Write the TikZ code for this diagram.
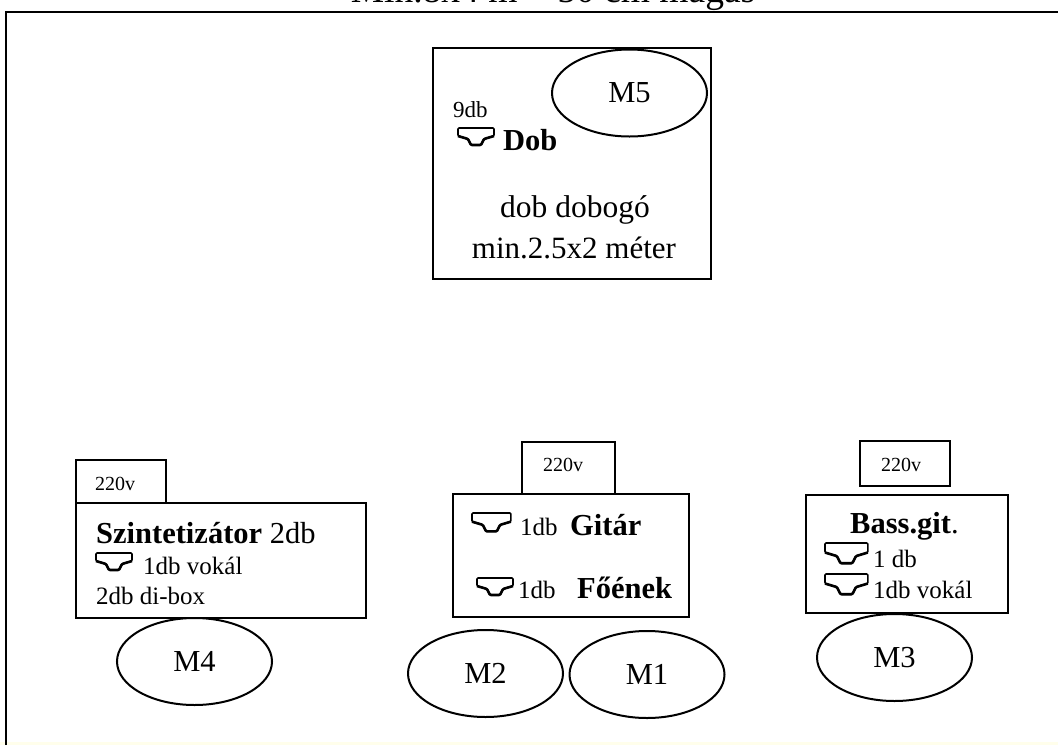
\documentclass[tikz,border=0pt]{standalone}
\usepackage{fontspec}
\setmainfont{Liberation Serif}
\usetikzlibrary{shapes}
\newcommand{\lw}{2pt}
\newcommand{\TS}{\fontsize{30.5}{32}\selectfont}
\newcommand{\MS}{\fontsize{25}{27}\selectfont}
\newcommand{\VS}{\fontsize{20}{22}\selectfont}
\newcommand{\Mon}[3]{\begin{scope}[shift={(#1,#2)},scale=#3,line join=round]
                        \draw[line width=1.6pt,rounded corners=1pt] (0,0) -- (36,0) -- (36,8) -- (26,11) -- (23,17) -- (13,17) -- (10,11) -- (0,8) -- cycle;
                        \draw[line width=2.6pt,rounded corners=1pt] (36,8) -- (26,11) -- (23,17) -- (13,17) -- (10,11) -- (0,8);
                     \end{scope}}
\tikzset{
    mon/.style={draw,ellipse,line width=\lw,inner sep=0pt,minimum width=155pt,minimum height=87pt,font=\TS},
    stagebox/.style={draw,rectangle,line width=\lw,inner sep=0pt,fill=white},
    txt/.style={anchor=base west,inner sep=0pt}
}

\begin{document}
\begin{tikzpicture}[x=1pt,y=-1pt]
    \useasboundingbox (0,0) rectangle (1058,745);
    \fill[white] (0,0) rectangle (1058,745);
    \fill[yellow!8] (0,742) rectangle (1058,745);

    \node[txt,anchor=base] (title) at (553,2) {\fontsize{37.5}{39}\selectfont Min.8x4 m + 50 cm magas};
    \draw[line width=\lw] (6,745) -- (6,12) -- (1058,12);

    % dob
    \node[stagebox,minimum width=278pt,minimum height=231pt] (dobbox) at (572,163.5) {};
    \node[mon] (m5) at (629.5,93) {M5};
    \node[txt] (dobdb) at (453,117) {\fontsize{23}{25}\selectfont 9db};
    \Mon{458}{128}{1};
    \node[txt] (dob) at (503,150) {\TS\bfseries Dob};
    \node[anchor=base,inner sep=0pt] (dobogo) at (575,217) {\fontsize{31.5}{33}\selectfont dob dobogó};
    \node[anchor=base,inner sep=0pt] (meret) at (574,258) {\fontsize{31}{33}\selectfont min.2.5x2 méter};

    % szintetizator
    \node[stagebox,minimum width=90pt,minimum height=43pt] (szaram) at (121,481.5) {};
    \node[stagebox,minimum width=290pt,minimum height=115pt] (szbox) at (221,560.5) {};
    \node[txt] (szv) at (95,490) {\VS 220v};
    \node[txt] (szint) at (96,543) {\TS\textbf{Szintetizátor} 2db};
    \Mon{96}{553}{1};
    \node[txt] (szvokal) at (143,574) {\MS 1db vokál};
    \node[txt] (szdi) at (96,604) {\MS 2db di-box};
    \node[mon] (m4) at (194.5,661.5) {M4};

    % gitar, foenek
    \node[stagebox,minimum width=93pt,minimum height=52pt] (gitaram) at (568.5,468) {};
    \node[stagebox,minimum width=236pt,minimum height=123pt] (gitbox) at (571,555.5) {};
    \node[txt] (gitv) at (543,471) {\VS 220v};
    \Mon{472}{513}{1.08};
    \node[txt] (gitdb) at (520,535) {\MS 1db};
    \node[txt] (gitar) at (570,535) {\TS\bfseries Gitár};
    \Mon{477}{578}{1};
    \node[txt] (foedb) at (518,598) {\MS 1db};
    \node[txt] (foenek) at (577,598) {\TS\bfseries Főének};
    \node[mon] (m2) at (485.5,673.5) {M2};
    \node[mon] (m1) at (647,674.5) {M1};

    % bass
    \node[stagebox,minimum width=90pt,minimum height=45pt] (bassaram) at (905,463.5) {};
    \node[stagebox,minimum width=202pt,minimum height=118pt] (bassbox) at (907,554) {};
    \node[txt] (bassv) at (881,471) {\VS 220v};
    \node[txt] (bass) at (850,533) {\TS\textbf{Bass.git}.};
    \Mon{825}{543}{1.19};
    \node[txt] (bassdb) at (873,567) {\MS 1 db};
    \Mon{825}{574}{1.19};
    \node[txt] (bassvokal) at (873,598) {\MS 1db vokál};
    \node[mon] (m3) at (894.5,657.5) {M3};
\end{tikzpicture}
\end{document}
